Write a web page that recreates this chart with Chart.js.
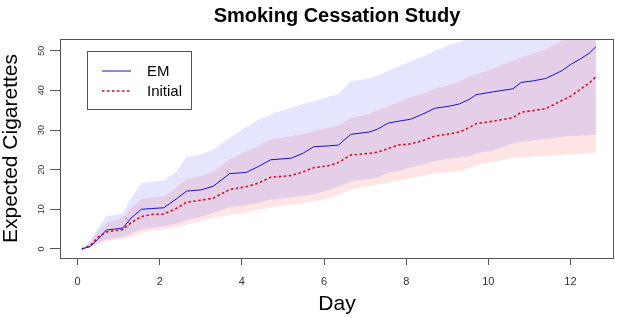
<!DOCTYPE html>
<html>
<head>
<meta charset="utf-8">
<script src="https://cdn.jsdelivr.net/npm/chart.js@4.4.0/dist/chart.umd.min.js"></script>
<style>
  body { margin: 0; background: #fff; }
  canvas { display: block; }
</style>
</head>
<body>
<canvas id="chart" width="618" height="318"></canvas>
<script>
var days = [0.1, 0.3, 0.5, 0.7, 0.9, 1.1, 1.3, 1.55, 1.8, 2.1, 2.4, 2.65, 3.0, 3.3, 3.7, 4.1, 4.4, 4.7,
  5.2, 5.5, 5.75, 6.1, 6.35, 6.65, 7.1, 7.3, 7.55, 7.8, 8.1, 8.4, 8.7, 9.05, 9.3, 9.55, 9.7, 10.1,
  10.6, 10.8, 11.1, 11.4, 11.8, 12.0, 12.25, 12.45, 12.62];

var emMean = [0, 0.6, 2.5, 4.8, 5.0, 5.3, 7.8, 10.0, 10.2, 10.4, 12.6, 14.6, 14.9, 15.8, 19.0, 19.3, 20.8, 22.5,
  22.9, 24.2, 25.8, 26.0, 26.2, 28.9, 29.5, 30.2, 31.7, 32.2, 32.7, 34.0, 35.5, 36.0, 36.6, 37.8, 38.9, 39.6,
  40.4, 42.0, 42.4, 43.0, 45.0, 46.5, 48.0, 49.3, 51.0];

var initialMean = [0, 0.8, 3.0, 4.3, 4.6, 4.9, 6.6, 8.2, 8.7, 8.8, 10.2, 11.8, 12.3, 12.8, 15.0, 15.7, 16.6, 18.1,
  18.5, 19.5, 20.5, 21.0, 21.8, 23.7, 24.1, 24.4, 25.3, 26.2, 26.5, 27.3, 28.5, 29.0, 29.5, 30.7, 31.6, 32.2,
  33.1, 34.5, 34.9, 35.4, 37.5, 38.5, 40.3, 41.8, 43.4];

var emUpper = [0, 2.0, 5.5, 8.3, 8.6, 9.0, 12.8, 16.6, 17.0, 17.3, 19.5, 23.2, 23.8, 25.0, 28.0, 30.8, 32.5, 34.0,
  35.6, 36.6, 37.3, 38.3, 39.0, 42.3, 43.0, 43.8, 44.9, 46.0, 47.2, 48.5, 50.0, 51.5, 52.2, 53.5, 54.2, 55.5,
  57.0, 58.5, 59.5, 60.5, 62.5, 64.0, 66.0, 67.5, 69.0];

var emLower = [0, 0.4, 1.5, 2.4, 2.8, 3.0, 3.9, 4.9, 5.3, 5.6, 6.3, 7.3, 8.1, 9.1, 10.5, 11.0, 11.6, 12.4,
  13.0, 13.4, 13.8, 14.9, 15.7, 17.1, 17.6, 18.0, 19.2, 19.6, 20.6, 21.2, 22.2, 22.8, 23.1, 23.4, 24.0, 24.8,
  26.6, 27.0, 27.4, 27.7, 28.3, 28.5, 28.6, 28.7, 28.8];

var initialUpper = [0, 1.6, 4.5, 6.5, 7.4, 7.8, 10.3, 12.6, 13.0, 13.3, 15.5, 17.7, 18.5, 19.6, 22.6, 24.5, 26.0, 27.6,
  28.4, 29.0, 29.8, 30.6, 31.2, 33.0, 34.0, 35.0, 36.0, 37.0, 38.2, 39.2, 40.4, 41.4, 42.2, 43.6, 44.0, 45.4,
  47.5, 48.3, 49.3, 50.3, 52.6, 54.0, 55.5, 57.0, 58.5];

var initialLower = [0, 0.3, 1.2, 2.0, 2.3, 2.5, 3.0, 4.0, 4.6, 4.9, 5.4, 6.1, 7.0, 7.9, 8.6, 9.2, 9.9, 10.4,
  11.2, 11.6, 12.0, 12.8, 13.6, 15.0, 15.8, 16.2, 16.7, 17.3, 17.8, 18.5, 19.1, 19.4, 19.6, 20.5, 21.2, 21.8,
  23.0, 23.1, 23.3, 23.4, 23.7, 23.9, 24.0, 24.1, 24.2];

var xTicks = [0, 2, 4, 6, 8, 10, 12];
var yTicks = [0, 10, 20, 30, 40, 50];

var FONT = '"Liberation Sans", Arial, Helvetica, sans-serif';

function pts(vals) {
  return days.map(function (d, i) { return { x: d, y: vals[i] }; });
}

var frameTitleLegend = {
  id: 'frameTitleLegend',
  afterDraw: function (chart) {
    var ctx = chart.ctx, a = chart.chartArea;
    ctx.save();
    // box around plot
    ctx.strokeStyle = '#555';
    ctx.lineWidth = 1;
    ctx.strokeRect(a.left + 0.5, a.top + 0.5, a.right - a.left - 1, a.bottom - a.top);

    // title
    ctx.fillStyle = '#000';
    ctx.font = 'bold 20px ' + FONT;
    ctx.textAlign = 'center';
    ctx.textBaseline = 'alphabetic';
    ctx.fillText('Smoking Cessation Study', (a.left + a.right) / 2, 22);

    // legend box
    var lx = a.left + 27, ly = a.top + 12;
    ctx.fillStyle = '#fff';
    ctx.fillRect(lx, ly, 104, 58);
    ctx.strokeStyle = '#555';
    ctx.strokeRect(lx + 0.5, ly + 0.5, 104, 58);
    var items = [chart.data.datasets[0], chart.data.datasets[1]];
    items.forEach(function (ds, i) {
      var yy = ly + 20 + i * 20;
      ctx.beginPath();
      ctx.strokeStyle = ds.borderColor;
      ctx.lineWidth = ds.borderWidth;
      ctx.setLineDash(ds.borderDash || []);
      ctx.moveTo(lx + 15, yy);
      ctx.lineTo(lx + 44, yy);
      ctx.stroke();
      ctx.setLineDash([]);
      ctx.fillStyle = '#000';
      ctx.font = '15px ' + FONT;
      ctx.textAlign = 'left';
      ctx.textBaseline = 'middle';
      ctx.fillText(ds.label, lx + 60, yy + 1);
    });
    ctx.restore();
  }
};

new Chart(document.getElementById('chart'), {
  type: 'line',
  data: {
    datasets: [
      { label: 'EM', data: pts(emMean), borderColor: 'rgb(20,20,200)', borderWidth: 1,
        pointRadius: 0, fill: false },
      { label: 'Initial', data: pts(initialMean), borderColor: 'rgb(220,10,30)', borderWidth: 1.6,
        borderDash: [2.5, 2.5], pointRadius: 0, fill: false },
      { label: 'EM upper', data: pts(emUpper), borderWidth: 0, borderColor: 'rgba(0,0,0,0)',
        pointRadius: 0, backgroundColor: 'rgba(0,0,255,0.1)', fill: '+1' },
      { label: 'EM lower', data: pts(emLower), borderWidth: 0, borderColor: 'rgba(0,0,0,0)',
        pointRadius: 0, fill: false },
      { label: 'Initial upper', data: pts(initialUpper), borderWidth: 0, borderColor: 'rgba(0,0,0,0)',
        pointRadius: 0, backgroundColor: 'rgba(255,0,0,0.1)', fill: '+1' },
      { label: 'Initial lower', data: pts(initialLower), borderWidth: 0, borderColor: 'rgba(0,0,0,0)',
        pointRadius: 0, fill: false }
    ]
  },
  options: {
    responsive: false,
    animation: false,
    devicePixelRatio: 1,
    layout: { padding: { top: 39, right: 4, left: 0, bottom: 0 } },
    plugins: {
      legend: { display: false },
      title: { display: false },
      tooltip: { enabled: false }
    },
    scales: {
      x: {
        type: 'linear',
        min: -0.43,
        max: 13.06,
        afterBuildTicks: function (s) { s.ticks = xTicks.map(function (v) { return { value: v }; }); },
        afterFit: function (s) { s.height = 60; },
        grid: { drawOnChartArea: false, drawTicks: true, tickLength: 7, color: '#555' },
        border: { display: false },
        ticks: { color: '#333', font: { family: FONT, size: 11 }, padding: 10, maxRotation: 0 },
        title: { display: true, text: 'Day', color: '#000', font: { family: FONT, size: 21 },
          padding: { top: 0, bottom: 1 } }
      },
      y: {
        min: -2.27,
        max: 52.95,
        afterBuildTicks: function (s) { s.ticks = yTicks.map(function (v) { return { value: v }; }); },
        afterFit: function (s) { s.width = 60; },
        grid: { drawOnChartArea: false, drawTicks: true, tickLength: 10, color: '#555' },
        border: { display: false },
        ticks: { color: '#333', font: { family: FONT, size: 9 }, padding: 3,
          minRotation: 90, maxRotation: 90, crossAlign: 'center' },
        title: { display: true, text: 'Expected Cigarettes', color: '#000',
          font: { family: FONT, size: 21, lineHeight: 1.05 }, padding: { top: 0, bottom: 0 } }
      }
    }
  },
  plugins: [frameTitleLegend]
});
</script>
</body>
</html>
